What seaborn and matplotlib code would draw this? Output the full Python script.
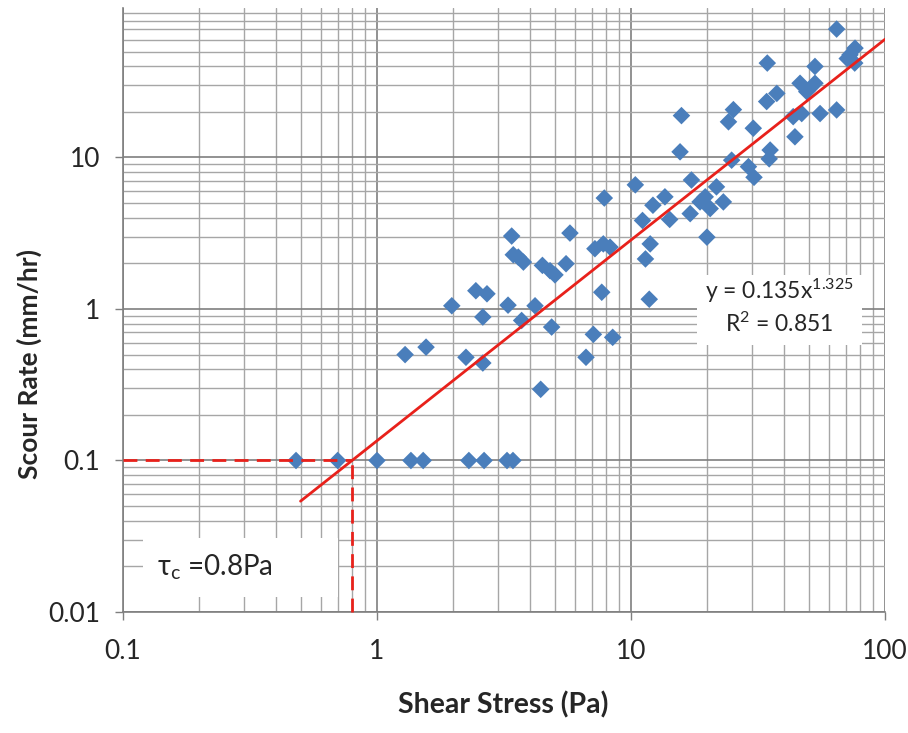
import numpy as np
import pandas as pd
import matplotlib
matplotlib.use("Agg")
import matplotlib.pyplot as plt
import seaborn as sns
from matplotlib.patches import Rectangle
from matplotlib.ticker import LogLocator, FixedLocator, FixedFormatter, NullFormatter

# ---------------- data ----------------
shear_stress = [0.48, 0.70, 1.0, 1.36, 1.52, 2.30, 2.64, 3.25, 3.43,
                1.29, 1.56, 1.97, 2.24, 2.61, 2.61, 3.28, 2.45, 2.71,
                10.4, 7.85, 13.6, 12.2, 11.1, 14.2, 3.39, 5.75, 3.44, 3.77, 3.6,
                4.48, 5.02, 5.55, 4.8, 7.21, 7.78, 8.27, 11.9, 11.4, 7.67, 11.8,
                4.19, 3.71, 4.87, 7.11, 8.47, 6.65, 4.41,
                15.8, 15.6, 25.3, 24.2, 30.3, 17.3, 17.1, 18.7, 21.7, 20.5, 23.1,
                19.6, 19.9, 24.9, 29.0, 30.5, 35.0, 35.3,
                64.5, 76.2, 72.8, 76.0, 71.0, 34.4, 53.0, 46.3, 53.0, 49.2, 37.5,
                34.2, 43.5, 47.0, 55.5, 64.5, 44.2]
scour_rate = [0.1, 0.1, 0.1, 0.1, 0.1, 0.1, 0.1, 0.1, 0.1,
              0.50, 0.56, 1.05, 0.48, 0.44, 0.885, 1.06, 1.32, 1.26,
              6.6, 5.4, 5.5, 4.84, 3.84, 3.9, 3.03, 3.17, 2.28, 2.04, 2.2,
              1.94, 1.68, 1.99, 1.79, 2.50, 2.69, 2.56, 2.69, 2.14, 1.29, 1.16,
              1.05, 0.84, 0.76, 0.68, 0.65, 0.48, 0.295,
              18.9, 10.9, 20.7, 17.2, 15.6, 7.1, 4.26, 5.09, 6.4, 4.6, 5.09,
              5.5, 2.98, 9.6, 8.7, 7.4, 9.8, 11.2,
              70.4, 52.7, 47.6, 42.0, 45.0, 42.0, 39.9, 30.9, 30.9, 27.2, 26.5,
              23.4, 18.6, 19.5, 19.5, 20.6, 13.7]

fit_coef = 0.135
fit_exp = 1.325
fit_r2 = 0.851
fit_range = [0.5, 100]
tau_c = 0.8
threshold_rate = 0.1

x_ticks = [0.1, 1, 10, 100]
x_tick_labels = ["0.1", "1", "10", "100"]
y_ticks = [0.01, 0.1, 1, 10]
y_tick_labels = ["0.01", "0.1", "1", "10"]

df = pd.DataFrame({"Shear Stress (Pa)": shear_stress, "Scour Rate (mm/hr)": scour_rate})
fit_x = np.logspace(np.log10(fit_range[0]), np.log10(fit_range[1]), 200)
fit_df = pd.DataFrame({"x": fit_x, "y": fit_coef * fit_x ** fit_exp})

# ---------------- style ----------------
sns.set_theme(style="white")
plt.rcParams["font.family"] = ["Lato", "DejaVu Sans"]
plt.rcParams["mathtext.default"] = "regular"

TXT = "#262626"

fig = plt.figure(figsize=(9.08, 7.33), dpi=100)
ax = fig.add_axes([123 / 908, 1 - 612 / 733, 762 / 908, 604 / 733])
ax.set_xscale("log")
ax.set_yscale("log")
ax.set_xlim(0.1, 100)
ax.set_ylim(0.01, 97)

# grid
ax.xaxis.set_minor_locator(LogLocator(base=10, subs=np.arange(2, 10)))
ax.yaxis.set_minor_locator(LogLocator(base=10, subs=np.arange(2, 10)))
ax.xaxis.set_minor_formatter(NullFormatter())
ax.yaxis.set_minor_formatter(NullFormatter())
ax.grid(True, which="major", color="#7f7f7f", linewidth=1.2, zorder=0)
ax.grid(True, which="minor", color="#a6a6a6", linewidth=1.0, zorder=0)
ax.set_axisbelow(True)

ax.xaxis.set_major_locator(FixedLocator(x_ticks))
ax.xaxis.set_major_formatter(FixedFormatter(x_tick_labels))
ax.yaxis.set_major_locator(FixedLocator(y_ticks))
ax.yaxis.set_major_formatter(FixedFormatter(y_tick_labels))
ax.tick_params(which="major", direction="out", length=5.5, width=1, color="#7f7f7f",
               labelsize=19, labelcolor=TXT, bottom=True, left=True)
ax.tick_params(axis="x", which="major", pad=14)
ax.tick_params(axis="y", which="major", pad=11)
ax.tick_params(which="minor", length=0)

for s in ["top", "right"]:
    ax.spines[s].set_visible(False)
for s in ["left", "bottom"]:
    ax.spines[s].set_color("#7f7f7f")
    ax.spines[s].set_linewidth(1.2)

# text boxes (white backgrounds)
ax.add_patch(Rectangle((0.026, 0.025), 0.256, 0.098, transform=ax.transAxes,
                       facecolor="white", edgecolor="none", zorder=1))
ax.add_patch(Rectangle((0.753, 0.442), 0.2165, 0.116, transform=ax.transAxes,
                       facecolor="white", edgecolor="none", zorder=1))

# data
sns.scatterplot(data=df, x="Shear Stress (Pa)", y="Scour Rate (mm/hr)", ax=ax,
                marker="D", s=80, color="#4A7EBB", edgecolor="none", zorder=3)
sns.lineplot(data=fit_df, x="x", y="y", ax=ax, color="#E8211B", linewidth=2.0, zorder=4)

# critical shear stress dashed lines
ax.plot([x_ticks[0], tau_c], [threshold_rate, threshold_rate], color="#E8211B",
        linestyle=(0, (5, 3)), linewidth=2.0, zorder=4)
ax.plot([tau_c, tau_c], [y_ticks[0], threshold_rate], color="#E8211B",
        linestyle=(0, (5, 3)), linewidth=2.0, zorder=4, clip_on=False)

# annotations
ax.text(0.045, 0.0745, r"τ$_{c}$ =0.8Pa", transform=ax.transAxes, fontsize=20,
        ha="left", va="center", color=TXT, zorder=5)
ax.text(0.8615, 0.532, "y = %.3fx$^{%.3f}$" % (fit_coef, fit_exp), transform=ax.transAxes,
        fontsize=16.5, ha="center", va="center", color=TXT, zorder=5)
ax.text(0.8615, 0.477, "R$^{2}$ = %.3f" % fit_r2, transform=ax.transAxes,
        fontsize=16.5, ha="center", va="center", color=TXT, zorder=5)

ax.set_xlabel("Shear Stress (Pa)", fontsize=20.5, fontweight="bold", color=TXT)
ax.set_ylabel("Scour Rate (mm/hr)", fontsize=19, fontweight="bold", color=TXT)
ax.xaxis.set_label_coords(0.499, -0.132)
ax.yaxis.set_label_coords(-0.106, 0.41)

fig.savefig("out.png", dpi=100, facecolor="white")
